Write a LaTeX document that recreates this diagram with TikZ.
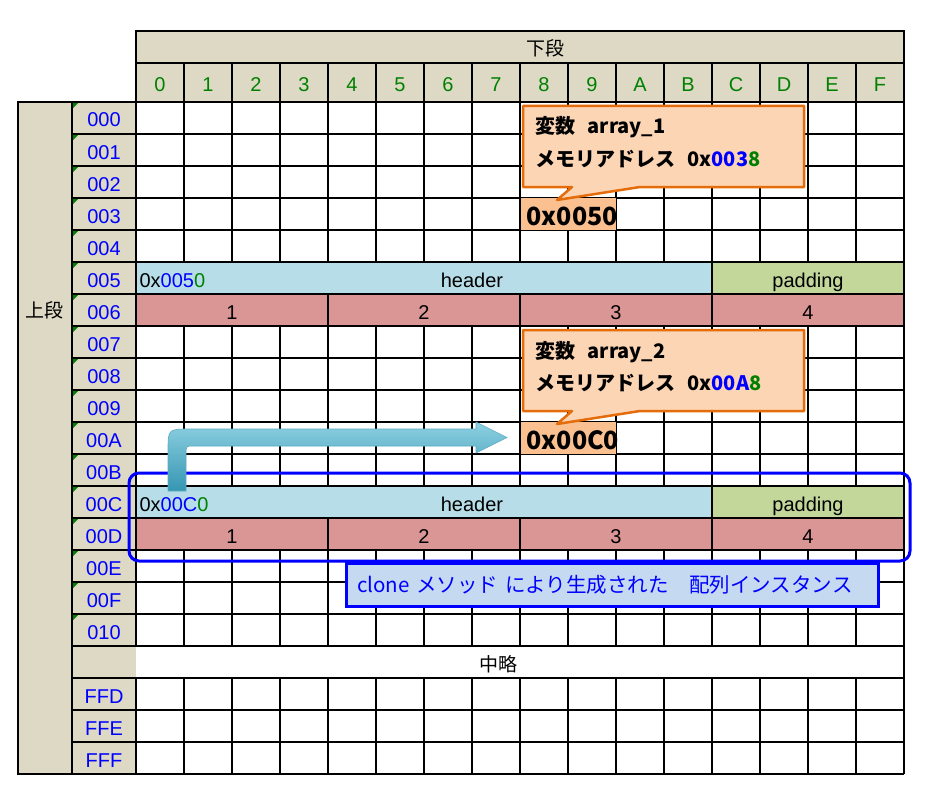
\documentclass[tikz,border=0pt]{standalone}
\usepackage{fontspec}
\setmainfont{Liberation Sans}
\newfontfamily\jp{Noto Sans CJK JP}
\definecolor{tan}{HTML}{DDD9C4}
\definecolor{hdrblue}{HTML}{B7DEE8}
\definecolor{padgreen}{HTML}{C4D79B}
\definecolor{elempink}{HTML}{DA9694}
\definecolor{calloutfill}{HTML}{FCD5B5}
\definecolor{calloutdraw}{HTML}{E46C0A}
\definecolor{valfill}{HTML}{FAC090}
\definecolor{labelfill}{HTML}{C5D9F1}
\definecolor{codegreen}{HTML}{008000}
\definecolor{arrowlight}{HTML}{8ED0E2}
\definecolor{arrowdark}{HTML}{3596B2}

\tikzset{
	gridline/.style={line width=1.2pt},
	addrtext/.style={text=blue, anchor=base},
	coltext/.style={text=codegreen, anchor=base},
	elemcell/.style={fill=elempink, draw, line width=2.5pt},
	callout/.style={fill=calloutfill, draw=calloutdraw, line width=2.5pt, line join=round},
	calltext/.style={anchor=base west, inner sep=0pt, font=\jp\bfseries\fontsize{20}{24}\selectfont},
	valtext/.style={anchor=base west, inner sep=0pt, font=\jp\bfseries\fontsize{25}{28}\selectfont},
	labelbox/.style={draw=blue, line width=3pt, fill=labelfill, text=blue, align=left,
		text width=510pt, inner xsep=11pt, minimum height=43pt,
		font=\jp\fontsize{20.5}{24}\selectfont},
}

\begin{document}
\begin{tikzpicture}[x=1pt,y=-1pt,line width=1.2pt,font=\fontsize{20}{24}\selectfont]
	
	\useasboundingbox (0,0) rectangle (926,789);
	
	%----------------------------
	% Column header: lower digit
	%----------------------------
	\fill[tan] (136,31) rectangle (904,102);
	\draw (136,31) rectangle (904,102);
	\draw (136,63) -- (904,63);
	\node[font=\jp\fontsize{19}{22}\selectfont] (lower) at (545,48) {下段};
	\foreach \c [count=\i from 0] in {0,1,2,3,4,5,6,7,8,9,A,B,C,D,E,F}
	{
		\draw (136+48*\i,63) -- (136+48*\i,102);
		\node[coltext] (col\c) at (160+48*\i,91.5) {\c};
	}
	
	%----------------------------
	% Row header: upper digits
	%----------------------------
	\fill[tan] (18,102) rectangle (136,774);
	\draw (18,102) rectangle (72,774);
	\node[font=\jp\fontsize{19}{22}\selectfont] (upper) at (44,310) {上段};
	\foreach \a [count=\j from 0] in {000,001,002,003,004,005,006,007,008,009,00A,00B,00C,00D,00E,00F,010}
	{
		\node[addrtext] (addr\a) at (104,127+32*\j) {\a};
		\fill[codegreen] (72.6,102.6+32*\j) -- ++(6,0) -- ++(-6,6) -- cycle;
	}
	\foreach \a [count=\j from 18] in {FFD,FFE,FFF}
	\node[addrtext] (addr\a) at (104,127+32*\j) {\a};
	
	%----------------------------
	% Memory cells
	%----------------------------
	\fill[white] (136,102) rectangle (904,774);
	\foreach \j in {0,...,21}
	\draw (72,102+32*\j) -- (904,102+32*\j);
	\foreach \i in {0,...,15}
	{
		\draw (136+48*\i,102) -- (136+48*\i,646);
		\draw (136+48*\i,678) -- (136+48*\i,774);
	}
	\draw (72,102) -- (72,774);
	\draw (904,102) -- (904,774);
	\node[font=\jp\fontsize{19}{22}\selectfont] (omitted) at (498,664) {中略};
	
	% array instances: header + padding, then 4 elements
	\foreach \t/\a in {262/005,486/00C}
	{
		\fill[hdrblue] (136,\t) rectangle (712,\t+32);
		\fill[padgreen] (712,\t) rectangle (904,\t+32);
		\draw (136,\t) rectangle (904,\t+32) (712,\t) -- (712,\t+32);
		\node[anchor=base west,inner sep=0pt] (base\a) at (139,\t+25) {0x\textcolor{blue}{\a}\textcolor{codegreen}{0}};
		\node[anchor=base] (hdr\a) at (472,\t+25) {header};
		\node[anchor=base] (pad\a) at (808,\t+25) {padding};
		\foreach \k in {1,...,4}
		{
			\draw[elemcell] (136+192*\k-192,\t+32) rectangle (136+192*\k,\t+64);
			\node[anchor=base] (elem\a-\k) at (40+192*\k,\t+57) {\k};
		}
	}
	
	%----------------------------
	% Variables: callouts and stored references
	%----------------------------
	\foreach \dy/\n/\mid/\val in {0/1/003/0x0050,224/2/00A/0x00C0}
	{
		\fill[valfill] (521,198+\dy) rectangle (616,230+\dy);
		\node[valtext] (val\n) at (526,225+\dy) {\val};
		\draw[callout] (523,106+\dy) -- (804,106+\dy) -- (804,187+\dy) -- (640,187+\dy)
		-- (557,200+\dy) -- (572,187+\dy) -- (523,187+\dy) -- cycle;
		\node[calltext] (var\n) at (535,134+\dy) {変数\hspace{12pt}array\_\n};
		\node[calltext] (mem\n) at (535,166+\dy) {メモリアドレス\hspace{12pt}0x\textcolor{blue}{\mid}\textcolor{codegreen}{8}};
	}
	
	%----------------------------
	% Cloned instance frame and label
	%----------------------------
	\draw[blue,line width=3pt,rounded corners=10pt] (129,473) rectangle (910,561);
	\node[labelbox] (clonelabel) at (612,584.5) {clone メソッド により生成された　配列インスタンス};
	
	% bent block arrow: 0x00C0 -> array_2
	\shade[top color=arrowlight,bottom color=arrowdark,draw=arrowdark!80,line width=0.6pt]
	(168,491) -- (168,451) .. controls (168,429) .. (190,429) -- (476,429) -- (476,422)
	-- (507,437.5) -- (476,453) -- (476,446) -- (194,446) .. controls (186,446) .. (186,454)
	-- (186,491) -- cycle;
	
\end{tikzpicture}
\end{document}
